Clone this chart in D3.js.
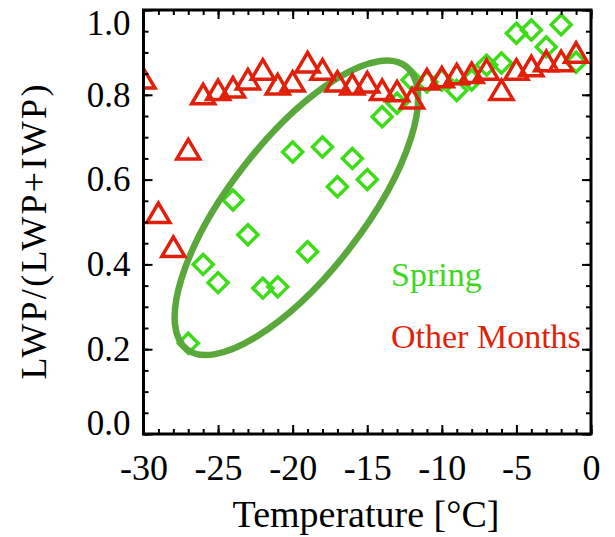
<!DOCTYPE html>
<html>
<head>
<meta charset="utf-8">
<script src="https://cdn.jsdelivr.net/npm/d3@7"></script>
<style>
body { margin: 0; background: #fff; }
text { font-family: "Liberation Serif", "Times New Roman", serif; }
</style>
</head>
<body>
<div id="chart"></div>
<script>
// spring points (green diamonds)
var springTemp = [-27, -26, -25, -24, -23, -22, -21, -20, -19, -18, -17, -16, -15, -14,
                  -13, -12, -11, -10, -9, -8, -7, -6, -5, -4, -3, -2, -1]
var springFrac = [0.214, 0.40, 0.357, 0.552, 0.47, 0.344, 0.347, 0.665, 0.43, 0.677, 0.583, 0.65, 0.60, 0.748,
                  0.78, 0.835, 0.83, 0.835, 0.81, 0.835, 0.87, 0.875, 0.945, 0.953, 0.913, 0.965, 0.877]

// other months (red triangles)
var otherTemp = [-30, -29, -28, -27, -26, -25, -24, -23, -22, -21, -20, -19, -18, -17, -16,
                 -15, -14, -13, -12, -11, -10, -9, -8, -7, -6, -5, -4, -3, -2, -1]
var otherFrac = [0.837, 0.52, 0.44, 0.67, 0.80, 0.81, 0.816, 0.835, 0.858, 0.823, 0.83, 0.875, 0.858, 0.83, 0.823,
                 0.828, 0.81, 0.807, 0.79, 0.835, 0.84, 0.847, 0.85, 0.858, 0.81, 0.858, 0.866, 0.878, 0.878, 0.898]

var xTicks = [-30, -25, -20, -15, -10, -5, 0]
var yTicks = [0, 0.2, 0.4, 0.6, 0.8, 1.0]

// long axis of the highlight ellipse, in data units
var ellipseEnds = [[-27.1, 0.2], [-12.4, 0.867]]

var width = 615, height = 537
var pLeft = 143.5, pRight = 591, pTop = 10, pBottom = 434

var x = d3.scaleLinear().domain([-30, 0]).range([pLeft, pRight])
var y = d3.scaleLinear().domain([0, 1]).range([pBottom, pTop])

var svg = d3.select('#chart').append('svg')
	.attr('width', width)
	.attr('height', height)

svg.append('rect').attr('width', width).attr('height', height).attr('fill', '#fff')

svg.append('clipPath')
	.attr('id', 'plot-clip')
  .append('rect')
	.attr('x', pLeft)
	.attr('y', pTop)
	.attr('width', pRight - pLeft)
	.attr('height', pBottom - pTop)

var plot = svg.append('g').attr('clip-path', 'url(#plot-clip)')

var springData = springTemp.map((t, i) => ({t: t, v: springFrac[i]}))
var otherData = otherTemp.map((t, i) => ({t: t, v: otherFrac[i]}))

// diamonds
plot.append('g')
	.selectAll('path')
	.data(springData)
	.enter()
	.append('path')
	.attr('transform', d => 'translate(' + x(d.t) + ',' + y(d.v) + ')')
	.attr('d', 'M0,-10 L10,0 L0,10 L-10,0 Z')
	.attr('fill', 'none')
	.attr('stroke', '#3ddc18')
	.attr('stroke-width', 3.5)

// ellipse
var p0 = [x(ellipseEnds[0][0]), y(ellipseEnds[0][1])]
var p1 = [x(ellipseEnds[1][0]), y(ellipseEnds[1][1])]
var cx = (p0[0] + p1[0]) / 2, cy = (p0[1] + p1[1]) / 2
var semiA = Math.hypot(p1[0] - p0[0], p1[1] - p0[1]) / 2
var angle = Math.atan2(p1[1] - p0[1], p1[0] - p0[0]) * 180 / Math.PI

plot.append('ellipse')
	.attr('transform', 'translate(' + cx + ',' + cy + ') rotate(' + angle + ')')
	.attr('rx', semiA)
	.attr('ry', 67)
	.attr('fill', 'none')
	.attr('stroke', '#5aa83c')
	.attr('stroke-width', 6.5)

// triangles
plot.append('g')
	.selectAll('path')
	.data(otherData)
	.enter()
	.append('path')
	.attr('transform', d => 'translate(' + x(d.t) + ',' + y(d.v) + ')')
	.attr('d', 'M0,-10.5 L11.5,9 L-11.5,9 Z')
	.attr('fill', 'none')
	.attr('stroke', '#e0200a')
	.attr('stroke-width', 3.5)
	.attr('stroke-linejoin', 'miter')

// axes: minor ticks then major ticks, all pointing inward
var xMinor = d3.range(-30, 1, 1)
var yMinor = d3.range(0, 1.0001, 0.05)

function styleAxis(g) {
	g.select('.domain').remove()
	g.selectAll('.tick line').attr('stroke', '#000').attr('stroke-width', 2)
}

svg.append('g').attr('transform', 'translate(0,' + pBottom + ')')
	.call(d3.axisBottom(x).tickValues(xMinor).tickSize(-5).tickFormat(''))
	.call(styleAxis)
svg.append('g').attr('transform', 'translate(0,' + pTop + ')')
	.call(d3.axisTop(x).tickValues(xMinor).tickSize(-5).tickFormat(''))
	.call(styleAxis)
svg.append('g').attr('transform', 'translate(' + pLeft + ',0)')
	.call(d3.axisLeft(y).tickValues(yMinor).tickSize(-5).tickFormat(''))
	.call(styleAxis)
svg.append('g').attr('transform', 'translate(' + pRight + ',0)')
	.call(d3.axisRight(y).tickValues(yMinor).tickSize(-5).tickFormat(''))
	.call(styleAxis)

var xAxis = svg.append('g').attr('transform', 'translate(0,' + pBottom + ')')
	.call(d3.axisBottom(x).tickValues(xTicks).tickSize(-9).tickPadding(20).tickFormat(d3.format('d')))
	.call(styleAxis)
xAxis.selectAll('text')
	.attr('font-size', 36)
	.attr('fill', '#000')
	.attr('font-family', '"Liberation Serif", serif')
	.text(d => String(d))

svg.append('g').attr('transform', 'translate(0,' + pTop + ')')
	.call(d3.axisTop(x).tickValues(xTicks).tickSize(-9).tickFormat(''))
	.call(styleAxis)
svg.append('g').attr('transform', 'translate(' + pRight + ',0)')
	.call(d3.axisRight(y).tickValues(yTicks).tickSize(-9).tickFormat(''))
	.call(styleAxis)

var yAxis = svg.append('g').attr('transform', 'translate(' + pLeft + ',0)')
	.call(d3.axisLeft(y).tickValues(yTicks).tickSize(-9).tickPadding(13).tickFormat(d3.format('.1f')))
	.call(styleAxis)
yAxis.selectAll('text')
	.attr('font-size', 35)
	.attr('fill', '#000')
	.attr('font-family', '"Liberation Serif", serif')
	.attr('dy', d => d == 1 ? '0.7em' : (d == 0 ? '0.0em' : '0.32em'))

// frame
svg.append('rect')
	.attr('x', pLeft)
	.attr('y', pTop)
	.attr('width', pRight - pLeft)
	.attr('height', pBottom - pTop)
	.attr('fill', 'none')
	.attr('stroke', '#000')
	.attr('stroke-width', 3)

// axis titles
svg.append('text')
	.attr('x', 366)
	.attr('y', 527)
	.attr('text-anchor', 'middle')
	.attr('font-size', 38)
	.text('Temperature [°C]')

svg.append('text')
	.attr('transform', 'translate(46,232) rotate(-90)')
	.attr('text-anchor', 'middle')
	.attr('font-size', 36)
	.attr('textLength', 295)
	.attr('lengthAdjust', 'spacing')
	.text('LWP/(LWP+IWP)')

// legend
svg.append('text')
	.attr('x', 391)
	.attr('y', 286)
	.attr('font-size', 34)
	.attr('fill', '#3cd81e')
	.text('Spring')

svg.append('text')
	.attr('x', 391)
	.attr('y', 348)
	.attr('font-size', 34)
	.attr('fill', '#e02208')
	.text('Other Months')
</script>
</body>
</html>
